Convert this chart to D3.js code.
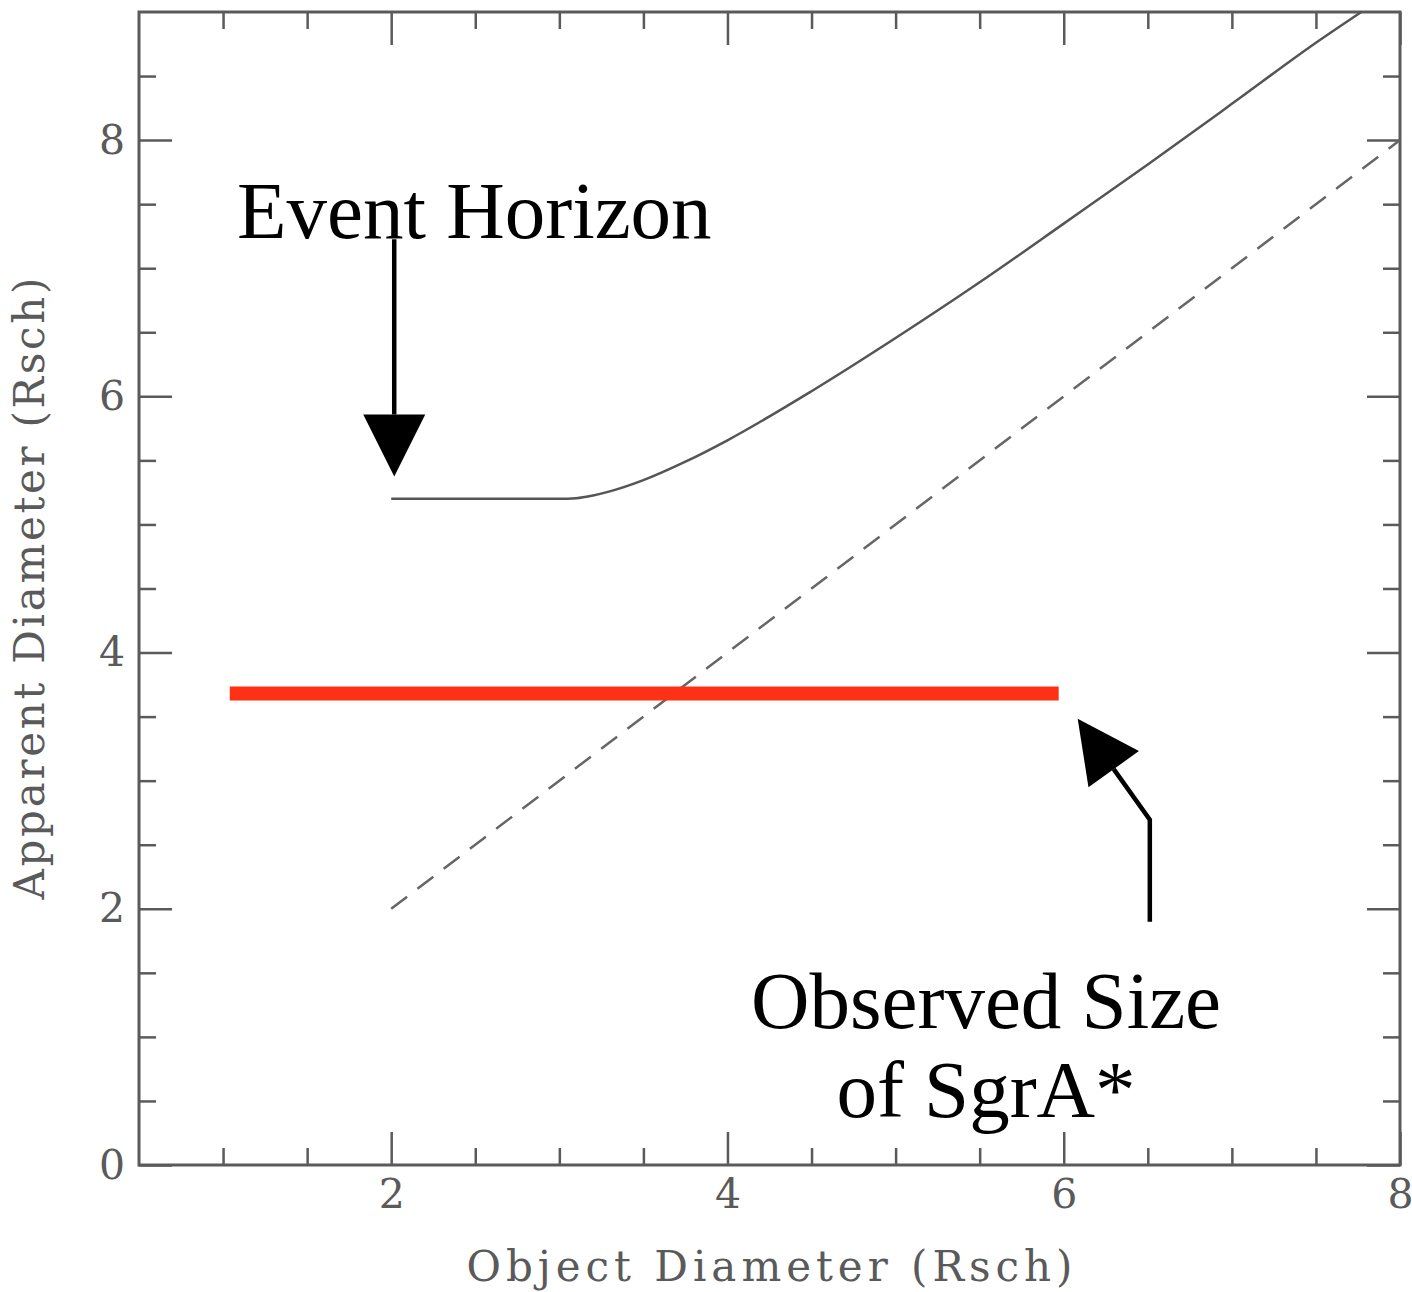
<!DOCTYPE html>
<html>
<head>
<meta charset="utf-8">
<script src="https://cdn.jsdelivr.net/npm/d3@7"></script>
<style>
    body { margin: 0; background: #fff; }
    svg { display: block; }
</style>
</head>
<body>
<div id="chart"></div>
<script>
// data
const horizonX = [2, 2.5, 3, 3.1, 3.2, 3.3, 3.5, 3.75, 4, 4.5, 5, 5.5, 6, 6.5, 7, 7.5, 7.77];
const horizonY = [5.2, 5.2, 5.2, 5.205, 5.226, 5.258, 5.346, 5.49, 5.657, 6.04, 6.455, 6.89, 7.348, 7.81, 8.283, 8.76, 9.0];
const equalX = [2, 8];
const equalY = [2, 8];
const observedX = [1.04, 5.97];
const observedY = [3.68, 3.68];

const xMajor = [2, 4, 6, 8];
const yMajor = [0, 2, 4, 6, 8];
const xMinor = [1, 1.5, 2.5, 3, 3.5, 4.5, 5, 5.5, 6.5, 7, 7.5];
const yMinor = [0.5, 1, 1.5, 2.5, 3, 3.5, 4.5, 5, 5.5, 6.5, 7, 7.5, 8.5];

const xLabel = 'Object Diameter (Rsch)';
const yLabel = 'Apparent Diameter (Rsch)';

// annotation arrows, in data units
const horizonArrow = [[2.018, 7.227], [2.018, 5.375]];
const observedArrow = [[6.512, 1.898], [6.512, 2.695], [6.083, 3.484]];

// set dimensions
const w = 1412;
const h = 1292;
const padLeft = 139, padRight = 1400, padTop = 12, padBottom = 1165;
const gray = '#5a5a5a';
const axisFont = '"DejaVu Serif", serif';

const x_scale = d3.scaleLinear().domain([0.5, 8]).range([padLeft, padRight]);
const y_scale = d3.scaleLinear().domain([0, 9]).range([padBottom, padTop]);

const svg = d3.select('#chart')
    .append('svg')
    .attr('width', w)
    .attr('height', h);

// ticks on all four sides, pointing inward
function addAxis(axis, values, size, tx, ty, labels) {
    const g = svg.append('g')
        .attr('transform', `translate(${tx}, ${ty})`)
        .call(axis.tickValues(values).tickSize(-size).tickPadding(labels ? 14 : 0)
            .tickFormat(labels ? d3.format('d') : ''));
    g.select('.domain').remove();
    g.selectAll('.tick line').attr('stroke', gray).attr('stroke-width', 2.5);
    g.selectAll('.tick text')
        .attr('fill', gray)
        .style('font-family', axisFont)
        .style('font-size', '41px');
    return g;
}

addAxis(d3.axisBottom(x_scale), xMajor, 33, 0, padBottom, true);
addAxis(d3.axisBottom(x_scale), xMinor, 17, 0, padBottom, false);
addAxis(d3.axisTop(x_scale), xMajor, 33, 0, padTop, false);
addAxis(d3.axisTop(x_scale), xMinor, 17, 0, padTop, false);
addAxis(d3.axisLeft(y_scale), yMajor, 33, padLeft, 0, true);
addAxis(d3.axisLeft(y_scale), yMinor, 17, padLeft, 0, false);
addAxis(d3.axisRight(y_scale), yMajor, 33, padRight, 0, false);
addAxis(d3.axisRight(y_scale), yMinor, 17, padRight, 0, false);

// frame
svg.append('rect')
    .attr('x', padLeft)
    .attr('y', padTop)
    .attr('width', padRight - padLeft)
    .attr('height', padBottom - padTop)
    .attr('fill', 'none')
    .attr('stroke', gray)
    .attr('stroke-width', 3);

// axis titles
svg.append('text')
    .attr('x', (padLeft + padRight) / 2)
    .attr('y', 1281)
    .attr('text-anchor', 'middle')
    .attr('textLength', 606)
    .attr('fill', gray)
    .style('font-family', axisFont)
    .style('font-size', '42px')
    .text(xLabel);

svg.append('text')
    .attr('transform', `translate(44, ${(padTop + padBottom) / 2}) rotate(-90)`)
    .attr('text-anchor', 'middle')
    .attr('textLength', 622)
    .attr('fill', gray)
    .style('font-family', axisFont)
    .style('font-size', '42px')
    .text(yLabel);

// lines
const line = d3.line()
    .x(d => x_scale(d[0]))
    .y(d => y_scale(d[1]));

svg.append('path')
    .datum(d3.zip(equalX, equalY))
    .attr('d', line)
    .attr('fill', 'none')
    .attr('stroke', '#666')
    .attr('stroke-width', 2.5)
    .attr('stroke-dasharray', '20 13');

svg.append('path')
    .datum(d3.zip(horizonX, horizonY))
    .attr('d', line.curve(d3.curveMonotoneX))
    .attr('fill', 'none')
    .attr('stroke', '#555')
    .attr('stroke-width', 2.5);

svg.append('path')
    .datum(d3.zip(observedX, observedY))
    .attr('d', d3.line().x(d => x_scale(d[0])).y(d => y_scale(d[1])))
    .attr('fill', 'none')
    .attr('stroke', '#ff3115')
    .attr('stroke-width', 14);

// arrows with a filled triangle head
function arrow(points) {
    const px = points.map(p => [x_scale(p[0]), y_scale(p[1])]);
    const tip = px[px.length - 1];
    const prev = px[px.length - 2];
    const len = Math.hypot(tip[0] - prev[0], tip[1] - prev[1]);
    const ux = (tip[0] - prev[0]) / len, uy = (tip[1] - prev[1]) / len;
    const headLen = 62, headHalf = 31;
    const base = [tip[0] - ux * headLen, tip[1] - uy * headLen];
    const shaft = px.slice(0, -1).concat([base]);
    svg.append('path')
        .attr('d', d3.line()(shaft))
        .attr('fill', 'none')
        .attr('stroke', '#000')
        .attr('stroke-width', 4.5);
    svg.append('path')
        .attr('d', d3.line()([
            [base[0] - uy * headHalf, base[1] + ux * headHalf],
            tip,
            [base[0] + uy * headHalf, base[1] - ux * headHalf]
        ]) + 'Z')
        .attr('fill', '#000');
}

arrow(horizonArrow);
arrow(observedArrow);

// annotation text
const noteFont = '"Liberation Serif", "Times New Roman", serif';
svg.append('text')
    .attr('x', 237)
    .attr('y', 238)
    .style('font-family', noteFont)
    .style('font-size', '81px')
    .text('Event Horizon');

svg.append('text')
    .attr('x', 986)
    .attr('y', 1028)
    .attr('text-anchor', 'middle')
    .style('font-family', noteFont)
    .style('font-size', '81px')
    .text('Observed Size');

svg.append('text')
    .attr('x', 986)
    .attr('y', 1117)
    .attr('text-anchor', 'middle')
    .style('font-family', noteFont)
    .style('font-size', '81px')
    .text('of SgrA*');
</script>
</body>
</html>
